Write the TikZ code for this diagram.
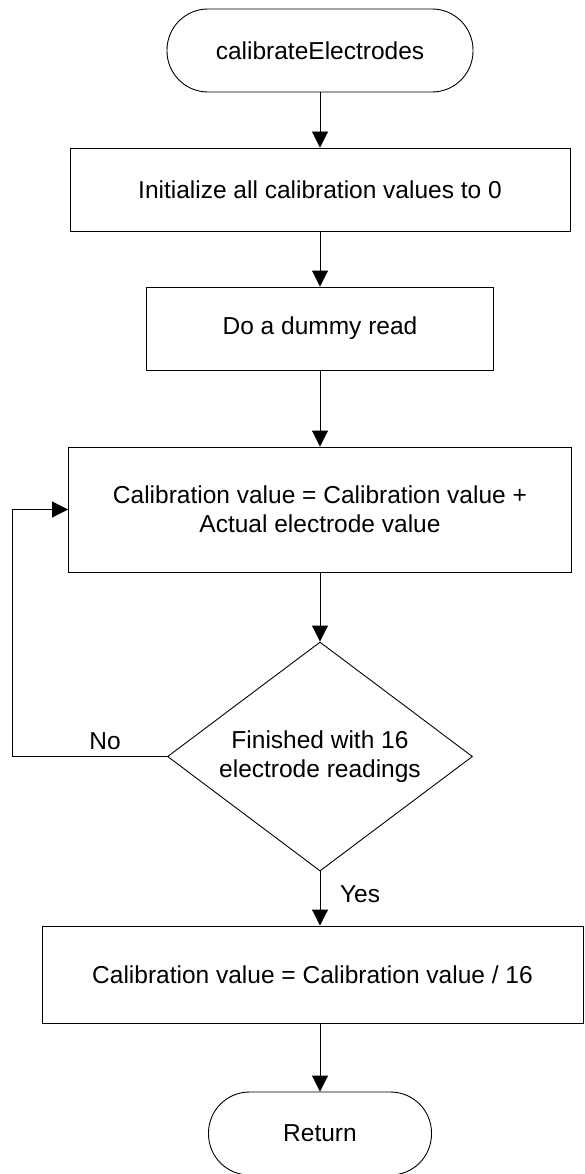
\documentclass[tikz,border=0pt]{standalone}
\usepackage{fontspec}
\setmainfont{Liberation Sans}
\usetikzlibrary{shapes.geometric,arrows.meta}

\tikzset{
    flowbox/.style={draw, rectangle, inner sep=0pt, align=center},
    termbox/.style={draw, rectangle, rounded corners=41pt, minimum height=83pt, inner sep=0pt},
    testbox/.style={draw, diamond, aspect=1.333, inner sep=0pt, minimum width=305pt, minimum height=229pt, align=center},
    flowarrow/.style={-{Triangle[length=16pt,width=16pt]}}
}

\begin{document}
\begin{tikzpicture}[x=1pt,y=-1pt,font=\fontsize{24.5}{29}\selectfont,line width=0.9pt]
        \useasboundingbox (0,0) rectangle (585,1174);

        \node[termbox, minimum width=306pt] (start) at (320,50.5) {calibrateElectrodes};
        \node[flowbox, minimum width=500pt, minimum height=83pt] (init) at (320,189.5) {Initialize all calibration values to 0};
        \node[flowbox, minimum width=347pt, minimum height=83pt] (dummy) at (320,328.5) {Do a dummy read};
        \node[flowbox, minimum width=503pt, minimum height=125pt] (accum) at (320,509.5)
            {Calibration value = Calibration value +\\Actual electrode value};
        \node[testbox] (done) at (320,756.5) {Finished with 16\\electrode readings};
        \node[flowbox, minimum width=541pt, minimum height=97pt] (avg) at (312.5,974.5) {Calibration value = Calibration value / 16};
        \node[termbox, minimum width=223pt] (ret) at (320,1133.5) {Return};

        \node (no) at (105,741) {No};
        \node (yes) at (360,894) {Yes};

        \draw[flowarrow] (start) -- (init);
        \draw[flowarrow] (init) -- (dummy);
        \draw[flowarrow] (dummy) -- (accum);
        \draw[flowarrow] (accum) -- (done);
        \draw[flowarrow] (done.south) -- (done.south |- avg.north);
        \draw[flowarrow] (done.south |- avg.south) -- (ret);
        \draw[flowarrow] (done.west) -- ++(-155,0) |- (accum.west);
    \end{tikzpicture}
\end{document}
